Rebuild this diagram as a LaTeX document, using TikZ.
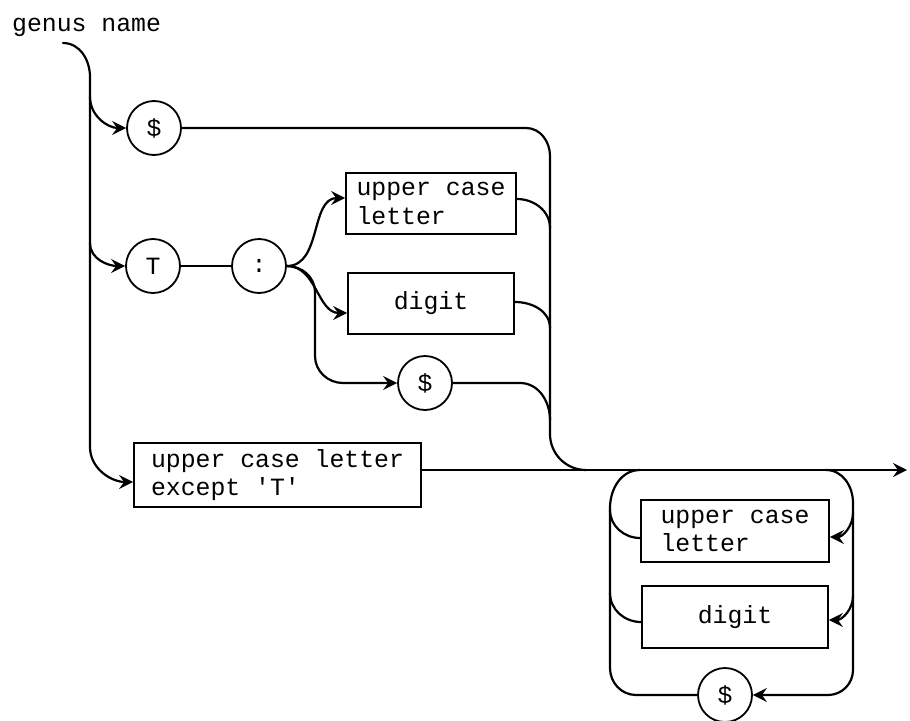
\documentclass[tikz,border=0pt]{standalone}
\usepackage{fontspec}
\newfontfamily\diagmono{Liberation Mono}
\usetikzlibrary{arrows.meta}
\begin{document}
\begin{tikzpicture}[x=1pt,y=-1pt,
  every node/.style={font=\diagmono\fontsize{24.8}{28.5}\selectfont},
  conn/.style={line width=2.2pt,line cap=round},
  arr/.style={conn,-{Stealth[length=14pt,width=14pt,inset=5pt]}},
  term/.style={circle,draw,line width=1.8pt,minimum size=54pt,inner sep=0pt},
  nterm/.style={rectangle,draw,line width=1.8pt,align=left,inner sep=0pt}]
\useasboundingbox[fill=white] (0,0) rectangle (910,720);
% nodes
\node[anchor=base west,inner sep=0pt] (title) at (12,31) {genus name};
\coordinate (s0) at (63,43);
\node[term] (c1) at (154,128) {\$};
\node[term] (cT) at (153,266) {T};
\node[term] (cC) at (259,266) {:};
\node[nterm,minimum width=170pt,minimum height=61pt] (bU1) at (431,203.5) {upper case\\letter};
\node[nterm,minimum width=166pt,minimum height=61pt] (bD1) at (431,303.5) {digit};
\node[term] (c2) at (425,383) {\$};
\node[nterm,minimum width=287pt,minimum height=64pt] (bE) at (277.5,475) {upper case letter\\except 'T'};
\node[nterm,minimum width=188pt,minimum height=62pt] (bU2) at (735,531) {upper case\\letter};
\node[nterm,minimum width=186pt,minimum height=62pt] (bD2) at (735,617) {digit};
\node[term] (c3) at (725,695) {\$};
\coordinate (out) at (907,470);
% entry and left trunk
\draw[arr] (s0) to[out=0,in=90] (90,77) -- (90,447) to[out=-90,in=180] ([yshift=-7pt]bE.west);
\draw[arr] (90,97) to[out=-90,in=180] (c1.west);
\draw[arr] (90,243) to[out=-90,in=180] (cT.west);
\draw[conn] (cT.east) -- (cC.west);
\draw[arr] (cC.east) to[out=0,in=180] ([yshift=5.5pt]bU1.west);
\draw[arr] (cC.east) to[out=0,in=180] ([yshift=-9.5pt]bD1.west);
\draw[arr] (cC.east) to[out=0,in=90] (315,292) -- (315,356) to[out=-90,in=180] (343,383) -- (c2.west);
% merge trunk
\draw[conn] (c1.east) -- (526,128) to[out=0,in=90] (550,156) -- (550,434) to[out=-90,in=180] (586,470);
\draw[conn] ([yshift=4.5pt]bU1.east) to[out=0,in=90] (550,228);
\draw[conn] ([yshift=1.5pt]bD1.east) to[out=0,in=90] (550,328);
\draw[conn] (c2.east) -- (520,383) to[out=0,in=90] (550,420);
% main line
\draw[arr] ([yshift=5pt]bE.east) -- (out);
% loop
\draw[arr] (826,470) to[out=0,in=90] (853,503) -- (853,670) to[out=-90,in=0] (828,695) -- (c3.east);
\draw[arr] (853,513) to[out=-90,in=0] ([yshift=-6pt]bU2.east);
\draw[arr] (853,596) to[out=-90,in=0] ([yshift=-3pt]bD2.east);
\draw[conn] (c3.west) -- (636,695) to[out=180,in=-90] (610,668) -- (610,508) to[out=90,in=180] (640,470);
\draw[conn] ([yshift=-7pt]bU2.west) to[out=180,in=-90] (610,510);
\draw[conn] ([yshift=-5pt]bD2.west) to[out=180,in=-90] (610,593);
\end{tikzpicture}
\end{document}
